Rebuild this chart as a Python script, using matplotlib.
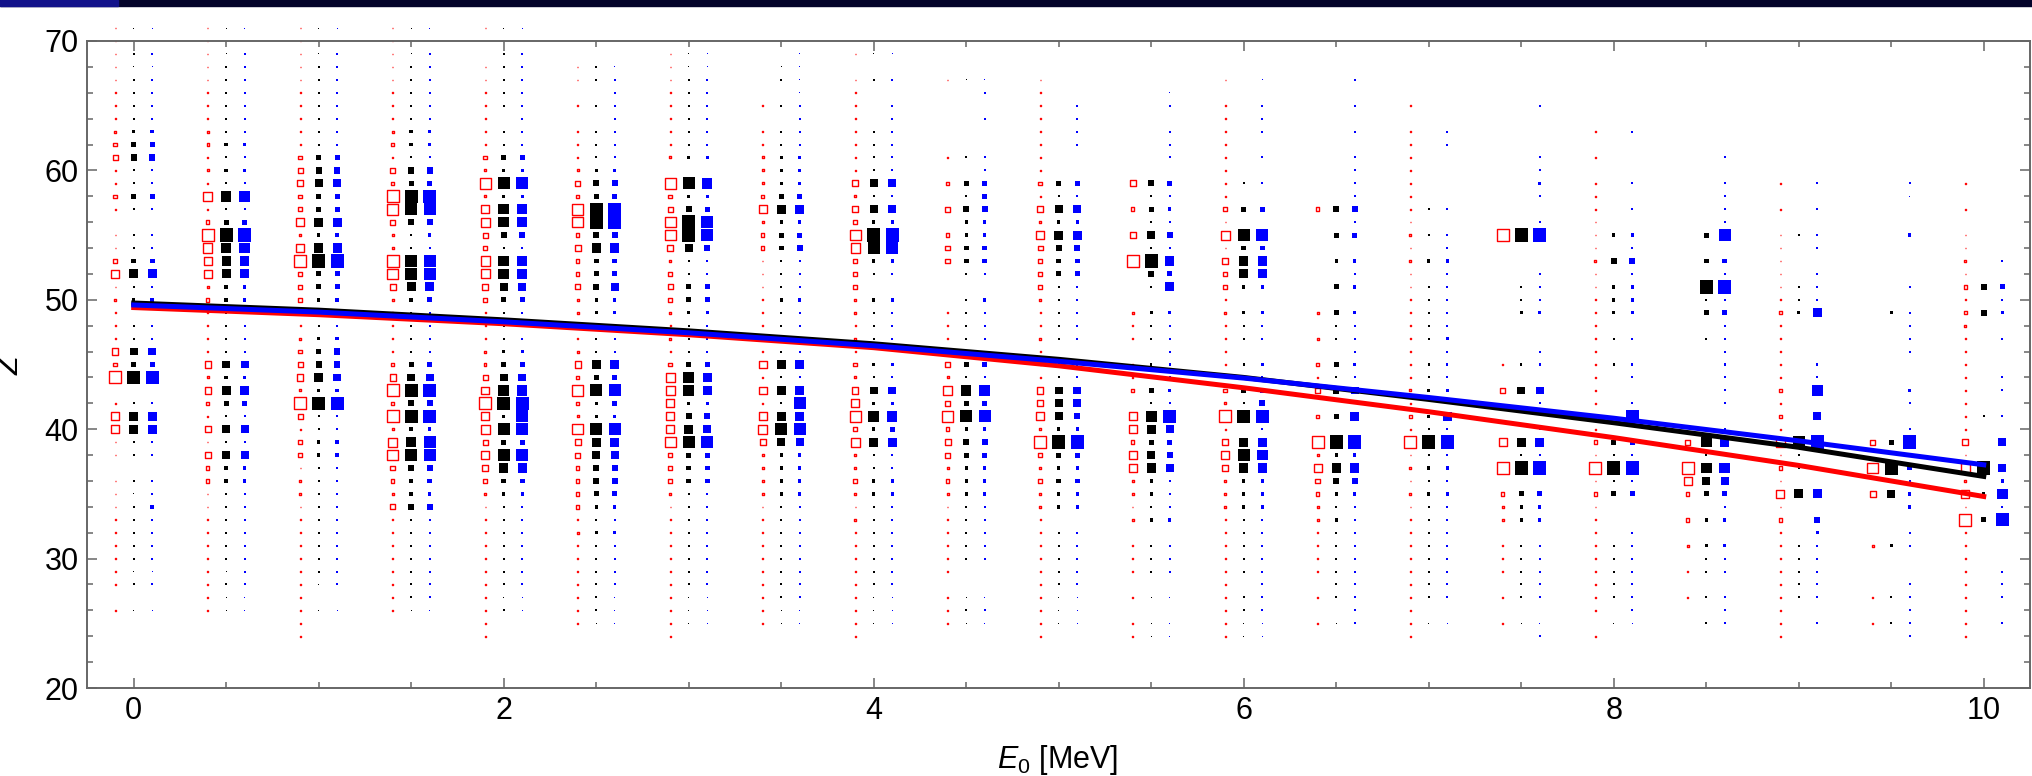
import matplotlib
matplotlib.use("Agg")
from matplotlib import pyplot as plt
from matplotlib.patches import Rectangle

# beam energies of the columns (MeV)
E0 = [0.0, 0.5, 1.0, 1.5, 2.0, 2.5, 3.0, 3.5, 4.0, 4.5, 5.0,
      5.5, 6.0, 6.5, 7.0, 7.5, 8.0, 8.5, 9.0, 9.5, 10.0]

# one string per column, charge Z = 71 (first char) down to Z = 24 (last);
# '.' = no yield, '0' = trace, '1'..'9' = relative yield
Z_TOP = 71

yield_red = [
    "11111111 2341131. 11361211 1539.166 11.11111 1111.1..",
    "11111111 22121713 97662311 11525315 15331111 111111..",
    "11111111 11345336 26933311 23452941 33122111 11111111",
    "11111111 23143984 22985211 11359392 78432411 111111..",
    "1..11111 11328267 43775311 12246967 46532111 11111111",
    "...11.1. 11124388 35334221 12538328 54333312 1111111.",
    "..111111 112.8348 85234321 21377666 83332111 11111111",
    "......1. 11222362 33111111 11616167 52222111 1111111.",
    "..1.1111 11115253 87333221 21325683 72232121 11111111",
    "....1... ..1.3.4. 344...11 1.427483 54232111 111.111.",
    "....1111 11113152 64333211 21115562 93232211 11111111",
    "........ ....5.3. 5.9...21 1.113.66 3662212. 111.1.11",
    "....1.11 11111131 71533121 111.3291 56522211 11111111",
    "........ ......3. ......2. 2.314.3. 92643221 111.1.1.",
    "......1. 11111111 21211111 11112131 91212111 11111111",
    "........ ........ 9....... ..1.4... 6.9.322. 111.1.1.",
    "........ 1.1.1111 11211111 11111111 31913111 111111.1",
    "........ ........ ........ ........ 4.963.3. 2.1.1...",
    "........ ....1.1. 11111131 11113131 71316131 11111111",
    "........ ........ ........ ........ 4.8.5... 2...1.1.",
    "........ ....1.1. 11213132 11111111 51726191 11111111",
]

yield_black = [
    "00101111 2341131. 113612.1 1539.166 11.10111 1101.0..",
    "00011111 12121713 97662211 11526315 15221111 110100..",
    "00011111 11345336 26933211 23462911 22111111 1110.0..",
    "00011111 22143984 11886211 11359492 78422411 111110..",
    "0011111. 11328277 41775311 12357928 38632111 111101..",
    "...11.1. 11124399 46334221 11638228 65443212 1111110.",
    "..001111 112.8249 95113321 11377246 83331111 1111000.",
    "...01.1. 11222362 33111211 11616168 52222111 1111100.",
    "..0.1... 11115152 9821.211 1.215272 61122111 1111000.",
    "....0... ..1.3142 2331.111 1.317382 43222111 11..010.",
    "........ ....3152 64331111 1.115552 932322.1 1111000.",
    "........ ....4131 51941.21 1.113176 3562212. 111.0.00",
    "........ ....1.3. 83662.21 1.1.319. 68622211 111.1100",
    "........ ......4. 3.2.3.31 1.314.3. 92642121 11111.0.",
    "........ ......1. 1.2.1111 1.112.21 91212111 11111.0.",
    "........ ........ 9...112. ..1.5... 619.322. 11111.0.",
    "........ ........ 2.4.222. 1.1..... 31913... 11111.0.",
    "........ ........ 3.3.913. 1....... 71753.2. 211.1.1.",
    "........ ........ 1...112. ........ 811.6... 11111...",
    "........ ........ ......2. ........ 3.9.5... 2...1.1.",
    "........ ........ ....4.4. ......1. ..9.2.3. ........",
]

yield_blue = [
    "00101111 2341131. 113612.1 1539.166 11.11211 1101.0..",
    "00111111 12121713 97662211 11526315 15221111 111100..",
    "00111111 11345336 26933211 24452911 22111111 1111.0..",
    "00111111 22143984 21886311 11359492 88432411 111110..",
    "00111111 11328277 41775311 12357988 38632111 111100..",
    "...01111 11124399 46335221 11638328 65443212 1111000.",
    "..001111 112.7238 84113321 11366245 83331111 1111000.",
    "..000011 11222362 34111211 11616868 52222111 1111100.",
    "..0.1.11 11115152 9821.211 1.215273 61122111 1111000.",
    "....01.1 ..113342 2331.211 11317382 43222111 11..010.",
    "......11 11..3152 64331111 1.115542 932322.1 1111000.",
    ".....01. 111.3121 41636.21 11112195 3451112. 111.0.00",
    "....0.11 1.1.1.3. 83662.21 1.213491 67622211 11111100",
    "....1.1. 1.111141 3.212.21 11215.6. 92642111 1111111.",
    "........ 11....1. 11211111 21112.61 91212111 11111.0.",
    "......1. ..1121.1 9..1112. .11.51.1 619.322. 11111.01",
    "........ 1...1.1. 2141222. 1.11.19. 31913..1 1111110.",
    "........ ..1.1111 8.319131 111111.1 6.75312. 211.111.",
    "........ ....1.1. 11.1116. ..117.5. 9...6.42 11111.1.",
    "........ ....10.. 2...1.11 11..21.1 9.3122.1 1..11111",
    "........ ........ ..1.312. 1..11.1. 5.52719. ..111.1.",
]

# mean charge curves
curve_e0 = [0, 1, 2, 3, 4, 5, 6, 7, 8, 9, 10]
curve_red = [49.4, 48.85, 48.15, 47.3, 46.3, 44.9, 43.2, 41.35, 39.35, 37.2, 34.8]
curve_black = [49.75, 49.2, 48.45, 47.6, 46.6, 45.4, 44.0, 42.3, 40.5, 38.6, 36.35]
curve_blue = [49.6, 49.05, 48.3, 47.45, 46.45, 45.25, 43.95, 42.45, 40.85, 39.1, 37.25]

W, H, DPI = 2032, 776, 100
RED_LW = 1.0         # outline width of the open squares (pt)

plt.rcParams["font.family"] = ["Liberation Sans", "DejaVu Sans"]
plt.rcParams["mathtext.fontset"] = "custom"
plt.rcParams["mathtext.rm"] = "Liberation Sans"
plt.rcParams["mathtext.it"] = "Liberation Sans:italic"


def side_px(y):
    # square side in pixels for a given relative yield
    return 0.9 if y < 1 else 0.6 + 1.42 * y


def unpack(columns, shift):
    xs, ys, sides = [], [], []
    for e, col in zip(E0, columns):
        for i, c in enumerate(col.replace(" ", "")):
            if c == ".":
                continue
            y = 0.45 if c == "0" else int(c)
            xs.append(e + shift)
            ys.append(Z_TOP - i)
            sides.append(side_px(y))
    return xs, ys, sides


def px_to_s(px):
    return (px * 72.0 / DPI) ** 2


fig = plt.figure(figsize=(W / DPI, H / DPI), dpi=DPI)
ax = fig.add_axes([87 / W, 1 - 688 / H, (2030 - 87) / W, (688 - 41) / H])

x, y, side = unpack(yield_red, -0.1)
lw_px = RED_LW * DPI / 72.0
ax.scatter(x, y, s=[px_to_s(max(v - lw_px, 0.5)) for v in side], marker="s",
           facecolors="none", edgecolors="red", linewidths=RED_LW,
           clip_on=False, zorder=2)

x, y, side = unpack(yield_black, 0.0)
ax.scatter(x, y, s=[px_to_s(v) for v in side], marker="s", c="black",
           linewidths=0, clip_on=False, zorder=2)

x, y, side = unpack(yield_blue, 0.1)
ax.scatter(x, y, s=[px_to_s(v) for v in side], marker="s", c="blue",
           linewidths=0, clip_on=False, zorder=2)

ax.plot(curve_e0, curve_red, color="red", lw=3.6, zorder=3)
ax.plot(curve_e0, curve_black, color="black", lw=3.6, zorder=3)
ax.plot(curve_e0, curve_blue, color="blue", lw=3.6, zorder=3)

ax.set_xlim(-0.2525, 10.25)
ax.set_ylim(20, 70)
ax.set_xticks([0, 2, 4, 6, 8, 10])
ax.set_xticks([v * 0.5 for v in range(21)], minor=True)
ax.set_yticks([20, 30, 40, 50, 60, 70])
ax.set_yticks(list(range(20, 71, 2)), minor=True)

frame = "#666666"
for sp in ax.spines.values():
    sp.set_color(frame)
    sp.set_linewidth(1.4)
ax.tick_params(which="both", direction="in", top=True, right=True,
               color=frame, width=1.1, labelsize=22, pad=6)
ax.tick_params(which="major", length=7)
ax.tick_params(which="minor", length=4)

fig.text(1058 / W, 1 - 768 / H, r"$E_0$ [MeV]", fontsize=22,
         ha="center", va="baseline")
fig.text(11 / W, 1 - 366 / H, "Z", fontsize=22, fontstyle="italic",
         rotation=90, ha="center", va="center")

# thin header strip along the top edge
fig.add_artist(Rectangle((0, 1 - 6 / H), 1, 6 / H, transform=fig.transFigure,
                         color="#03032a", zorder=10))
fig.add_artist(Rectangle((0, 1 - 6 / H), 118 / W, 6 / H,
                         transform=fig.transFigure, color="#12128a", zorder=11))

fig.savefig("out.png", dpi=DPI)
